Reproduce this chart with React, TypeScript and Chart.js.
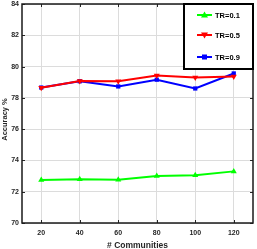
import React, { useEffect, useRef } from "react";
import { Chart, registerables } from "chart.js";

Chart.register(...registerables);

const communities = [20, 40, 60, 80, 100, 120];
const tr01 = [72.75, 72.8, 72.77, 73.0, 73.05, 73.3];
const tr05 = [78.65, 79.08, 79.06, 79.43, 79.3, 79.36];
const tr09 = [78.66, 79.06, 78.73, 79.16, 78.6, 79.56];
const seriesLabels = ["TR=0.1", "TR=0.5", "TR=0.9"];
const seriesColors = ["#00ff00", "#ff0000", "#0000ff"];
const seriesMarkers = ["triangle", "triangle", "rect"];
const seriesRotation = [0, 180, 0];
const yTicks = [70, 72, 74, 76, 78, 80, 82, 84];
const xTicks = [20, 40, 60, 80, 100, 120];
const yTitle = "Accuracy %";
const xTitle = "# Communities";

const FONT = "'Liberation Sans', Arial, sans-serif";

const framePlugin = {
  id: "frame",
  afterDatasetsDraw(chart: any) {
    const { ctx, chartArea: a } = chart;
    ctx.save();
    ctx.strokeStyle = "#262626";
    ctx.lineWidth = 1;
    const ys = chart.scales.y;
    const xs = chart.scales.x;
    yTicks.forEach((v) => {
      const y = Math.round(ys.getPixelForValue(v)) + 0.5;
      ctx.beginPath();
      ctx.moveTo(a.left, y);
      ctx.lineTo(a.left + 3, y);
      ctx.moveTo(a.right, y);
      ctx.lineTo(a.right - 3, y);
      ctx.stroke();
    });
    xTicks.forEach((v) => {
      const x = Math.round(xs.getPixelForValue(v)) + 0.5;
      ctx.beginPath();
      ctx.moveTo(x, a.bottom);
      ctx.lineTo(x, a.bottom - 3);
      ctx.moveTo(x, a.top);
      ctx.lineTo(x, a.top + 3);
      ctx.stroke();
    });
    ctx.strokeStyle = "#1a1a1a";
    ctx.lineWidth = 1.5;
    ctx.strokeRect(a.left, a.top, a.right - a.left, a.bottom - a.top);

    // y title
    ctx.save();
    ctx.translate(5, (a.top + a.bottom) / 2 + 6);
    ctx.rotate(-Math.PI / 2);
    ctx.fillStyle = "#262626";
    ctx.font = `bold 7.5px ${FONT}`;
    ctx.textAlign = "center";
    ctx.textBaseline = "middle";
    ctx.fillText(yTitle, 0, 0);
    ctx.restore();

    // legend
    const lx = 184, ly = a.top, lw = a.right - 184, lh = 65;
    ctx.fillStyle = "#fff";
    ctx.fillRect(lx, ly, lw, lh);
    ctx.strokeStyle = "#000";
    ctx.lineWidth = 2;
    ctx.strokeRect(lx, ly, lw, lh);
    const rows = [15, 35, 57];
    chart.data.datasets.forEach((ds: any, i: number) => {
      const y = rows[i];
      ctx.strokeStyle = ds.borderColor;
      ctx.lineWidth = 2;
      ctx.beginPath();
      ctx.moveTo(197, y);
      ctx.lineTo(212, y);
      ctx.stroke();
      ctx.fillStyle = ds.borderColor;
      ctx.beginPath();
      if (i === 0) {
        ctx.moveTo(204.5, y - 3.5);
        ctx.lineTo(208, y + 2.5);
        ctx.lineTo(201, y + 2.5);
      } else if (i === 1) {
        ctx.moveTo(204.5, y + 3.5);
        ctx.lineTo(208, y - 2.5);
        ctx.lineTo(201, y - 2.5);
      } else {
        ctx.rect(202, y - 2.5, 5, 5);
      }
      ctx.closePath();
      ctx.fill();
      ctx.fillStyle = "#000";
      ctx.font = `bold 7.5px ${FONT}`;
      ctx.textBaseline = "middle";
      ctx.textAlign = "left";
      ctx.fillText(ds.label, 215, y + 0.5);
    });
    ctx.restore();
  },
};

export default function App() {
  const ref = useRef<HTMLCanvasElement>(null);
  useEffect(() => {
    document.body.style.margin = "0";
    const values = [tr01, tr05, tr09];
    const chart = new Chart(ref.current!, {
      type: "line",
      data: {
        datasets: values.map((vals, i) => ({
          label: seriesLabels[i],
          data: communities.map((c, j) => ({ x: c, y: vals[j] })),
          borderColor: seriesColors[i],
          backgroundColor: seriesColors[i],
          borderWidth: 2,
          pointStyle: seriesMarkers[i] as any,
          rotation: seriesRotation[i],
          pointRadius: i === 2 ? 3 : 3.5,
          pointBorderWidth: 0,
          tension: 0,
        })),
      },
      options: {
        animation: false,
        responsive: false,
        layout: { padding: { top: 4, right: 3, left: 0, bottom: 0 } },
        plugins: { legend: { display: false }, tooltip: { enabled: false } },
        scales: {
          x: {
            type: "linear",
            min: 10,
            max: 130,
            afterBuildTicks: (s: any) => {
              s.ticks = xTicks.map((v) => ({ value: v }));
            },
            afterFit: (s: any) => {
              s.height = 26;
              s.paddingLeft = 0;
              s.paddingRight = 0;
            },
            grid: { color: "#dcdcdc", lineWidth: 1, drawTicks: false },
            border: { display: false },
            ticks: {
              color: "#262626",
              font: { family: FONT, size: 7, weight: "bold" },
              padding: 6,
            },
            title: {
              display: true,
              text: xTitle,
              color: "#262626",
              font: { family: FONT, size: 8.5, weight: "bold" },
              padding: { top: 0, bottom: -2 },
            },
          },
          y: {
            min: 70,
            max: 84,
            afterBuildTicks: (s: any) => {
              s.ticks = yTicks.map((v) => ({ value: v }));
            },
            afterFit: (s: any) => {
              s.width = 22;
              s.paddingTop = 0;
              s.paddingBottom = 0;
            },
            grid: { color: "#dcdcdc", lineWidth: 1, drawTicks: false },
            border: { display: false },
            ticks: {
              color: "#262626",
              font: { family: FONT, size: 7, weight: "bold" },
              padding: 3,
            },
            title: { display: false },
          },
        },
      },
      plugins: [framePlugin],
    });
    return () => chart.destroy();
  }, []);
  return <canvas ref={ref} width={257} height={249} style={{ display: "block" }} />;
}
